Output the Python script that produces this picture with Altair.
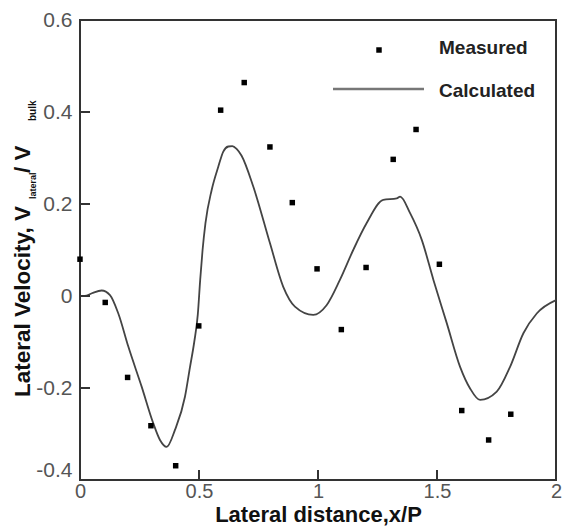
import altair as alt
import pandas as pd

# Measured data
measured_x = [0.0, 0.106, 0.200, 0.298, 0.402, 0.499, 0.591, 0.690, 0.798, 0.892,
              0.996, 1.098, 1.202, 1.316, 1.412, 1.510, 1.604, 1.717, 1.810]
measured_y = [0.080, -0.014, -0.177, -0.282, -0.369, -0.065, 0.404, 0.464, 0.324, 0.203,
              0.059, -0.073, 0.062, 0.297, 0.362, 0.069, -0.249, -0.313, -0.257]

# Calculated curve
calc_x = [0.0, 0.02, 0.05, 0.091, 0.126, 0.161, 0.203, 0.259, 0.308, 0.336, 0.364,
          0.399, 0.441, 0.462, 0.480, 0.495, 0.505, 0.515, 0.527, 0.553, 0.581, 0.602,
          0.623, 0.640, 0.658, 0.679, 0.728, 0.798, 0.854, 0.903, 0.980, 1.036, 1.092,
          1.148, 1.204, 1.274, 1.331, 1.345, 1.387, 1.436, 1.485, 1.541, 1.597, 1.639,
          1.681, 1.751, 1.807, 1.863, 1.919, 2.0]
calc_y = [0.0, 0.0, 0.006, 0.012, 0.002, -0.038, -0.110, -0.197, -0.277, -0.313, -0.328,
          -0.291, -0.219, -0.155, -0.100, -0.040, 0.035, 0.100, 0.158, 0.230, 0.281, 0.314,
          0.325, 0.326, 0.320, 0.305, 0.238, 0.115, 0.020, -0.023, -0.041, -0.020, 0.035,
          0.100, 0.158, 0.209, 0.212, 0.216, 0.180, 0.122, 0.035, -0.059, -0.154, -0.201,
          -0.226, -0.208, -0.154, -0.081, -0.038, -0.009]

x_tick_values = [0, 0.5, 1, 1.5, 2]
y_tick_values = [-0.4, -0.2, 0, 0.2, 0.4, 0.6]
x_inner_ticks = [0.5, 1, 1.5]
y_inner_ticks = [-0.2, 0, 0.2, 0.4]

W, H = 476, 460
FONT = "Liberation Sans"

df_m = pd.DataFrame({"x": measured_x, "y": measured_y})
df_c = pd.DataFrame({"x": calc_x, "y": calc_y})

xs = alt.Scale(domain=[0, 2], nice=False, zero=False)
ys = alt.Scale(domain=[-0.4, 0.6], nice=False, zero=False)

LBL = "replace(format(datum.value, '~g'), '\u2212', '-')"

xaxis = alt.Axis(values=x_tick_values, ticks=False, domain=False, grid=False,
                 labelFlush=False, labelOverlap=False,
                 labelFontSize=20, labelColor="#555", labelFont=FONT, labelPadding=1,
                 labelExpr=LBL,
                 title="Lateral distance,x/P", titleFont=FONT, titleFontSize=22,
                 titleFontWeight="bold", titleColor="#111", titlePadding=3)
yaxis = alt.Axis(values=y_tick_values, ticks=False, domain=False, grid=False,
                 labelFlush=False, labelOverlap=False,
                 labelFontSize=21, labelColor="#555", labelFont=FONT, labelPadding=8,
                 labelExpr=LBL,
                 labelBaseline={"condition": {"test": "datum.value == -0.4", "value": "bottom"},
                                "value": "middle"},
                 title=None)

X = alt.X("x:Q", scale=xs, axis=xaxis)
Y = alt.Y("y:Q", scale=ys, axis=yaxis)

line = alt.Chart(df_c).mark_line(color="#444", strokeWidth=1.8, interpolate="monotone").encode(x=X, y=Y)
points = alt.Chart(df_m).mark_square(size=30, color="black", opacity=1).encode(x=X, y=Y)

yticks = alt.Chart(pd.DataFrame({"y": y_inner_ticks})).mark_rule(color="#333", strokeWidth=2).encode(
    y=Y, x=alt.value(0), x2=alt.value(10))
xticks = alt.Chart(pd.DataFrame({"x": x_inner_ticks})).mark_rule(color="#333", strokeWidth=2).encode(
    x=X, y=alt.value(H), y2=alt.value(H - 10))

one = pd.DataFrame({"a": [0]})

# Legend
leg_pt = alt.Chart(one).mark_square(size=30, color="black", opacity=1).encode(
    x=alt.value(299), y=alt.value(30))
leg_ln = alt.Chart(one).mark_rule(color="#777", strokeWidth=2.5).encode(
    x=alt.value(253), x2=alt.value(344), y=alt.value(69))
leg_t1 = alt.Chart(one).mark_text(align="left", baseline="middle", font=FONT, fontSize=19,
                                  fontWeight="bold", color="#222").encode(
    x=alt.value(359), y=alt.value(28), text=alt.value("Measured"))
leg_t2 = alt.Chart(one).mark_text(align="left", baseline="middle", font=FONT, fontSize=19,
                                  fontWeight="bold", color="#222").encode(
    x=alt.value(359), y=alt.value(71), text=alt.value("Calculated"))

# Y title with subscripts
def ytext(txt, px, py, size):
    return alt.Chart(one).mark_text(align="left", baseline="middle", angle=270, font=FONT,
                                    fontSize=size, fontWeight="bold", color="#111").encode(
        x=alt.value(px), y=alt.value(py), text=alt.value(txt))

yt1 = ytext("Lateral Velocity, V", 22.5 - 80, 397 - 20, 22.5)
yt2 = ytext("lateral", 33 - 80, 199 - 20, 9)
yt3 = ytext("/ V", 22.5 - 80, 173 - 20, 22.5)
yt4 = ytext("bulk", 33 - 80, 121 - 20, 10)

chart = alt.layer(line, points, yticks, xticks, leg_pt, leg_ln, leg_t1, leg_t2,
                  yt1, yt2, yt3, yt4).properties(
    width=W, height=H,
    autosize=alt.AutoSizeParams(type="none"),
    padding={"left": 80, "top": 20, "right": 7, "bottom": 51},
    background="white",
).configure_view(stroke="#333", strokeWidth=2)

chart.save("out.html", embed_options={"renderer": "svg", "actions": False})
